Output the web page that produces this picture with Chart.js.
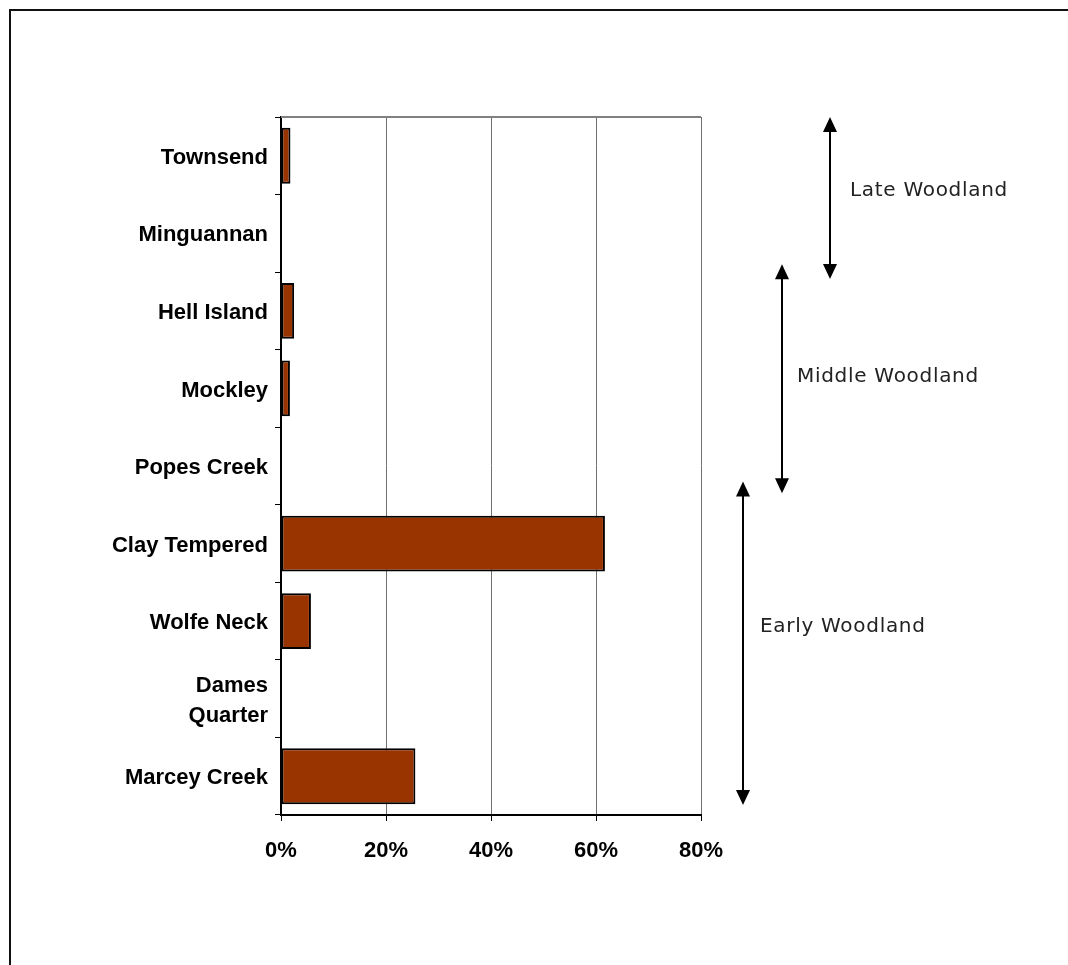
<!DOCTYPE html>
<html>
<head>
<meta charset="utf-8">
<script src="https://cdn.jsdelivr.net/npm/chart.js@4"></script>
<style>
  html, body { margin: 0; padding: 0; background: #fff; }
  #wrap { position: relative; width: 1068px; height: 965px; overflow: hidden; }
  #frame { position: absolute; left: 9px; top: 9px; width: 1100px; height: 1000px;
           border-left: 2px solid #111; border-top: 2px solid #111; }
  #canvas { position: absolute; left: 0; top: 0; }
</style>
</head>
<body>
<div id="wrap">
  <div id="frame"></div>
  <canvas id="canvas" width="1068" height="965"></canvas>
</div>
<script>
var categories = ["Townsend", "Minguannan", "Hell Island", "Mockley", "Popes Creek",
  "Clay Tempered", "Wolfe Neck", ["Dames", "Quarter"], "Marcey Creek"];
var percents = [1.8, 0, 2.5, 1.7, 0, 61.7, 5.7, 0, 25.6];
var xTicks = [0, 20, 40, 60, 80];

// periods on the right, spans given in category positions (top to bottom)
var periodNames = ["Late Woodland", "Middle Woodland", "Early Woodland"];
var periodFrom = [-0.5, 1.4, 4.2];
var periodTo = [1.59, 4.35, 8.37];

var periodArrows = {
  id: "periodArrows",
  afterDraw: function (chart) {
    var ctx = chart.ctx;
    var area = chart.chartArea;
    var y = chart.scales.y;
    var arrowX = [area.right + 129, area.right + 81, area.right + 42];
    var textX = [area.right + 149, area.right + 96, area.right + 59];
    var textY = [191, 377, 627];

    // top border of the plot
    ctx.save();
    ctx.strokeStyle = "#808080";
    ctx.lineWidth = 2;
    ctx.beginPath();
    ctx.moveTo(area.left, area.top);
    ctx.lineTo(area.right, area.top);
    ctx.stroke();

    ctx.strokeStyle = "#000";
    ctx.fillStyle = "#000";
    ctx.lineWidth = 2;
    for (var i = 0; i < periodNames.length; i++) {
      var x = arrowX[i];
      var y1 = y.getPixelForValue(periodFrom[i]);
      var y2 = y.getPixelForValue(periodTo[i]);
      ctx.beginPath();
      ctx.moveTo(x, y1 + 10);
      ctx.lineTo(x, y2 - 10);
      ctx.stroke();
      ctx.beginPath();
      ctx.moveTo(x, y1);
      ctx.lineTo(x - 7, y1 + 15);
      ctx.lineTo(x + 7, y1 + 15);
      ctx.closePath();
      ctx.fill();
      ctx.beginPath();
      ctx.moveTo(x, y2);
      ctx.lineTo(x - 7, y2 - 15);
      ctx.lineTo(x + 7, y2 - 15);
      ctx.closePath();
      ctx.fill();
    }

    ctx.fillStyle = "#222";
    ctx.font = "20px 'DejaVu Sans'";
    ctx.letterSpacing = "0.7px";
    ctx.textAlign = "left";
    ctx.textBaseline = "middle";
    for (var j = 0; j < periodNames.length; j++) {
      ctx.fillText(periodNames[j], textX[j], textY[j]);
    }
    ctx.restore();
  }
};

var ctx = document.getElementById("canvas");

var chart = new Chart(ctx, {
  type: "bar",
  data: {
    labels: categories,
    datasets: [
      {
        label: "Percent",
        data: percents,
        backgroundColor: "#993300",
        borderColor: "#000",
        borderWidth: 2,
        borderSkipped: false,
        barPercentage: 0.72,
        categoryPercentage: 1,
      },
    ],
  },
  options: {
    indexAxis: "y",
    responsive: false,
    animation: false,
    layout: {
      padding: { left: 0, right: 367, top: 117, bottom: 90 },
    },
    plugins: {
      legend: { display: false },
      tooltip: { enabled: false },
    },
    scales: {
      x: {
        min: 0,
        max: 80,
        afterBuildTicks: function (scale) {
          scale.ticks = xTicks.map(function (v) { return { value: v }; });
        },
        afterFit: function (scale) {
          scale.height = 60;
        },
        border: { display: true, color: "#000", width: 2 },
        grid: {
          color: function (c) { return c.tick && c.tick.value === 0 ? "#000" : "#707070"; },
          lineWidth: 1,
          tickLength: 6,
          tickColor: "#000",
        },
        ticks: {
          padding: 17,
          color: "#000",
          font: { family: "'Liberation Sans', Arial, sans-serif", size: 22, weight: "bold" },
          callback: function (v) { return v + "%"; },
        },
      },
      y: {
        offset: true,
        afterFit: function (scale) {
          scale.width = 281;
        },
        border: { display: true, color: "#000", width: 2 },
        grid: {
          offset: true,
          drawOnChartArea: false,
          tickLength: 6,
          color: "#000",
        },
        ticks: {
          padding: 7,
          labelOffset: 2,
          color: "#000",
          font: { family: "'Liberation Sans', Arial, sans-serif", size: 22, weight: "bold", lineHeight: 1.36 },
        },
      },
    },
  },
  plugins: [periodArrows],
});
</script>
</body>
</html>
